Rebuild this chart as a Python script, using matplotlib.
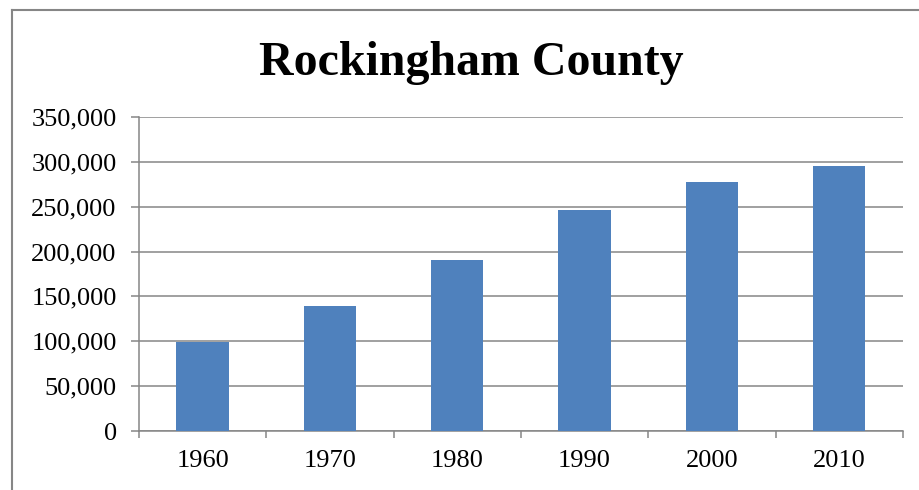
import numpy as np
import matplotlib.pyplot as plt
from matplotlib.lines import Line2D
from matplotlib.ticker import FuncFormatter, FixedLocator

years = ['1960', '1970', '1980', '1990', '2000', '2010']
population = [99029, 138951, 190345, 245845, 277359, 295223]

plt.rcParams['font.family'] = ['Liberation Serif', 'DejaVu Serif']

grey = '#868686'
fig = plt.figure(figsize=(9.2, 4.9), dpi=100)
ax = fig.add_axes([0.151, 0.1204, 0.8304, 0.6408])

x = np.arange(len(years))
ax.bar(x, population, width=0.41, color='#4F81BD', zorder=3)

ax.set_xlim(-0.5, len(years) - 0.5)
ax.set_ylim(0, 350000)
ax.set_yticks(np.arange(0, 350001, 50000))
ax.yaxis.set_major_formatter(FuncFormatter(lambda v, p: f'{int(v):,}'))
ax.set_xticks(x)
ax.set_xticklabels(years)
ax.xaxis.set_minor_locator(FixedLocator(np.arange(-0.5, len(years), 1)))

ax.grid(axis='y', color=grey, linewidth=1.1, zorder=0)
for s in ['top', 'right']:
    ax.spines[s].set_visible(False)
for s in ['left', 'bottom']:
    ax.spines[s].set_color(grey)
    ax.spines[s].set_linewidth(1.1)

ax.tick_params(axis='y', length=6, width=1.1, color=grey, pad=10, labelsize=19)
ax.tick_params(axis='x', which='major', length=0, pad=14, labelsize=19)
ax.tick_params(axis='x', which='minor', length=5, width=1.1, color=grey)

fig.text(0.5125, 0.872, 'Rockingham County', ha='center', va='center',
         fontsize=34.5, fontweight='bold')

# chart border
fig.add_artist(Line2D([12 / 920, 12 / 920], [0, 1 - 10 / 490], transform=fig.transFigure,
                      color=grey, linewidth=1.5))
fig.add_artist(Line2D([12 / 920, 1], [1 - 10 / 490, 1 - 10 / 490], transform=fig.transFigure,
                      color=grey, linewidth=1.5))

fig.savefig('out.png', dpi=100)
